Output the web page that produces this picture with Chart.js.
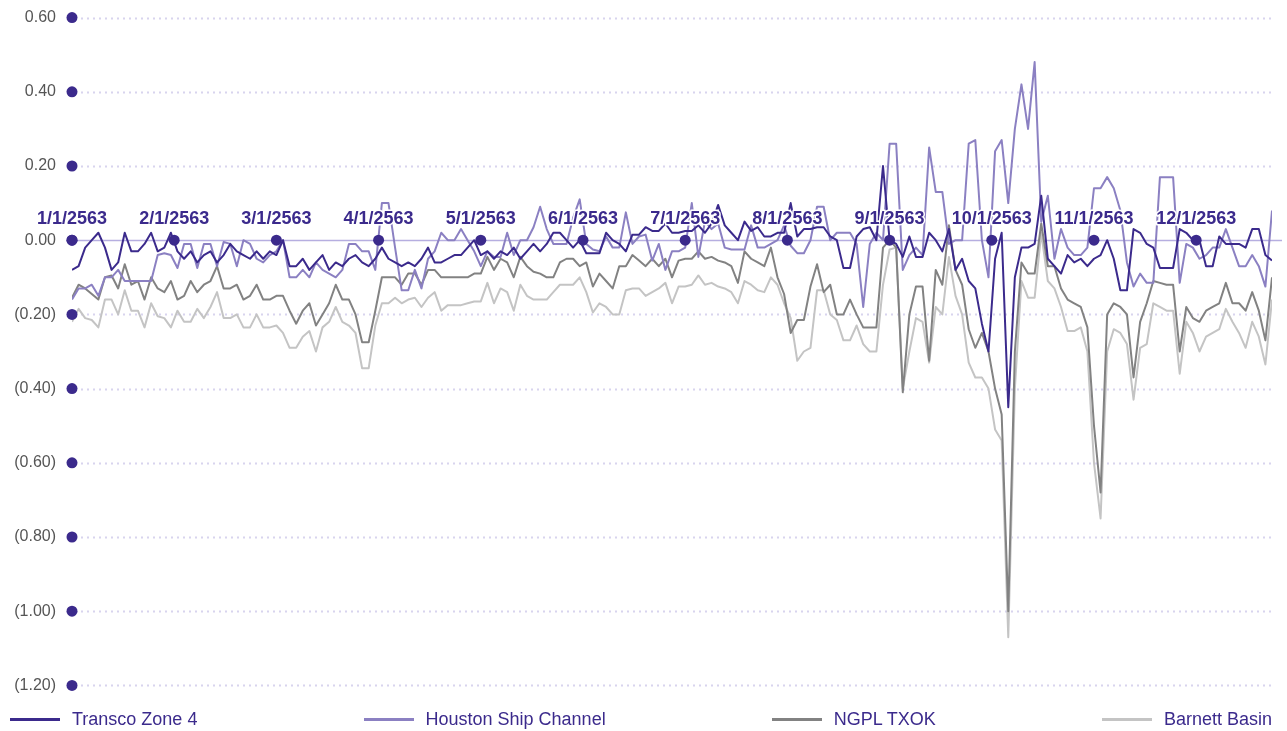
<!DOCTYPE html>
<html>
<head>
<meta charset="utf-8">
<script src="https://cdn.jsdelivr.net/npm/chart.js@4.4.1/dist/chart.umd.min.js"></script>
<style>
  body { margin: 0; background: #fff; font-family: "Liberation Sans", Arial, sans-serif; overflow: hidden; width: 1287px; height: 731px; position: relative; }
  #wrap { position: absolute; left: 0; top: -8px; width: 1287px; height: 719px; }
  #legend { position: absolute; left: 0; top: 708px; width: 1262px; display: flex; justify-content: space-between; align-items: center; padding: 0 15px 0 10px; height: 23px; }
  .item { display: flex; align-items: center; color: #3b2a8c; font-size: 18px; }
  .swatch { width: 50px; height: 3px; margin-right: 12px; }
</style>
</head>
<body>
<div id="wrap"><canvas id="chart" width="1287" height="719"></canvas></div>
<div id="legend"></div>
<script>
'use strict';

// month markers (evenly spaced, one every 31 days like the original)
const monthLabels = ['1/1/2563', '2/1/2563', '3/1/2563', '4/1/2563', '5/1/2563', '6/1/2563',
  '7/1/2563', '8/1/2563', '9/1/2563', '10/1/2563', '11/1/2563', '12/1/2563'];
const seriesNames = ['Transco Zone 4', 'Houston Ship Channel', 'NGPL TXOK', 'Barnett Basin'];
const seriesColors = ['#3b2a8c', '#8b80c2', '#828282', '#c4c4c4'];
const dayStep = 2; // one value every two days

// ----- values, Jan .. Dec -----
const transco = [
  -0.08, -0.07, -0.02, 0.00, 0.02, -0.02, -0.08, -0.06, 0.02, -0.03, -0.03, -0.01, 0.02, -0.03, -0.02, 0.02,
  -0.03, -0.05, -0.03, -0.06, -0.04, -0.03, -0.06, -0.04, -0.01, -0.03, -0.04, -0.05, -0.03, -0.05,
  -0.03, -0.04, 0.00, -0.07, -0.07, -0.05, -0.08, -0.06, -0.04, -0.08, -0.06, -0.07, -0.05, -0.04, -0.06, -0.07,
  -0.05, -0.02, -0.05, -0.06, -0.07, -0.06, -0.07, -0.05, -0.02, -0.06, -0.06, -0.05, -0.04, -0.04, -0.02,
  0.00, -0.04, -0.03, -0.05, -0.03, -0.04, -0.02, -0.05, -0.03, -0.01, -0.03, -0.01, 0.02, 0.02, 0.00,
  -0.02, 0.00, -0.035, -0.035, -0.035, 0.02, 0.00, -0.01, -0.03, 0.015, 0.015, 0.035, 0.025, 0.025, 0.045,
  0.02, 0.02, 0.025, 0.025, 0.04, 0.02, 0.045, 0.095, 0.04, 0.02, 0.00, 0.05, 0.025, 0.035, 0.01, 0.01,
  0.02, 0.02, 0.10, 0.01, 0.03, 0.03, 0.035, 0.035, 0.01, 0.00, -0.075, -0.075, 0.01, 0.03, 0.035,
  0.00, 0.20, 0.00, -0.01, -0.045, 0.01, -0.045, -0.045, 0.02, 0.00, -0.03, 0.03, -0.08, -0.05, -0.11,
  -0.13, -0.225, -0.30, -0.05, 0.02, -0.45, -0.10, -0.02, -0.02, -0.01, 0.12, -0.05, -0.07, -0.09, -0.04, -0.06,
  -0.05, -0.07, -0.05, -0.04, 0.00, -0.05, -0.135, -0.135, 0.03, 0.02, -0.01, -0.02, -0.075, -0.075, -0.075,
  0.03, 0.02, 0.00, 0.00, -0.07, -0.07, 0.01, -0.01, -0.01, -0.01, -0.02, 0.03, 0.03, -0.04, -0.055
];
const houston = [
  -0.16, -0.13, -0.13, -0.12, -0.15, -0.10, -0.10, -0.08, -0.11, -0.11, -0.11, -0.11, -0.11, -0.04, -0.035, -0.04,
  -0.075, -0.01, -0.01, -0.075, -0.01, -0.01, -0.07, -0.005, -0.01, -0.07, 0.00, -0.01, -0.05, -0.06,
  -0.04, -0.03, 0.00, -0.10, -0.10, -0.08, -0.10, -0.06, -0.08, -0.09, -0.10, -0.08, -0.01, -0.01, -0.03, -0.03,
  -0.08, 0.10, 0.10, -0.02, -0.135, -0.135, -0.08, -0.13, -0.05, -0.03, 0.02, 0.00, 0.00, 0.03, 0.00,
  -0.03, -0.07, -0.03, -0.045, -0.045, 0.02, -0.04, 0.00, 0.00, 0.035, 0.09, 0.03, -0.01, -0.01, -0.01,
  0.06, 0.11, -0.01, -0.025, -0.03, 0.01, -0.02, -0.02, 0.075, -0.01, 0.01, 0.015, -0.055, -0.01, -0.08,
  -0.03, -0.03, -0.02, 0.10, -0.045, 0.05, 0.03, 0.045, -0.02, -0.025, -0.025, -0.025, 0.04, -0.02, -0.02, -0.01,
  0.00, 0.04, -0.015, -0.035, -0.035, 0.00, 0.09, 0.09, 0.00, 0.02, 0.02, 0.02, -0.01, -0.18, -0.01,
  0.02, 0.00, 0.26, 0.26, -0.08, -0.04, -0.02, -0.04, 0.25, 0.13, 0.13, -0.01, 0.00, 0.00, 0.26,
  0.27, 0.00, -0.10, 0.24, 0.27, 0.10, 0.30, 0.42, 0.30, 0.48, 0.05, 0.12, -0.05, 0.03, -0.02, -0.04,
  -0.04, -0.02, 0.14, 0.14, 0.17, 0.14, 0.08, -0.06, -0.125, -0.09, -0.115, -0.115, 0.17, 0.17, 0.17,
  -0.115, -0.01, -0.02, -0.05, -0.04, -0.02, -0.02, 0.03, -0.02, -0.07, -0.07, -0.04, -0.07, -0.125, 0.08
];
const ngpl = [
  -0.155, -0.12, -0.13, -0.145, -0.16, -0.10, -0.095, -0.13, -0.065, -0.12, -0.11, -0.16, -0.10, -0.13, -0.14, -0.11,
  -0.16, -0.15, -0.11, -0.14, -0.12, -0.11, -0.07, -0.13, -0.13, -0.12, -0.16, -0.15, -0.12, -0.16,
  -0.16, -0.15, -0.15, -0.19, -0.225, -0.19, -0.17, -0.23, -0.20, -0.17, -0.12, -0.16, -0.16, -0.20, -0.275, -0.275,
  -0.19, -0.10, -0.10, -0.10, -0.12, -0.09, -0.09, -0.12, -0.08, -0.08, -0.10, -0.10, -0.10, -0.10, -0.10,
  -0.09, -0.09, -0.045, -0.08, -0.05, -0.06, -0.10, -0.045, -0.07, -0.085, -0.09, -0.10, -0.10, -0.06, -0.05,
  -0.05, -0.07, -0.06, -0.125, -0.09, -0.11, -0.13, -0.07, -0.07, -0.04, -0.055, -0.07, -0.05, -0.07, -0.05,
  -0.10, -0.055, -0.05, -0.05, -0.03, -0.05, -0.045, -0.055, -0.06, -0.07, -0.115, -0.03, -0.05, -0.06, -0.07, -0.02,
  -0.10, -0.145, -0.25, -0.215, -0.215, -0.125, -0.065, -0.14, -0.12, -0.20, -0.20, -0.16, -0.20, -0.235, -0.235,
  -0.235, -0.02, 0.00, -0.02, -0.41, -0.20, -0.125, -0.125, -0.325, -0.08, -0.12, 0.04, -0.08, -0.12, -0.24,
  -0.29, -0.25, -0.30, -0.40, -0.47, -1.00, -0.30, -0.06, -0.09, -0.09, 0.045, -0.07, -0.07, -0.13, -0.16, -0.17,
  -0.18, -0.235, -0.50, -0.68, -0.20, -0.17, -0.18, -0.20, -0.37, -0.22, -0.17, -0.11, -0.115, -0.12, -0.12,
  -0.30, -0.18, -0.21, -0.22, -0.19, -0.18, -0.17, -0.115, -0.17, -0.17, -0.19, -0.14, -0.19, -0.27, -0.10
];
const barnett = [
  -0.22, -0.185, -0.21, -0.215, -0.235, -0.16, -0.16, -0.20, -0.135, -0.19, -0.19, -0.235, -0.17, -0.205, -0.21, -0.235,
  -0.19, -0.22, -0.22, -0.185, -0.21, -0.18, -0.14, -0.21, -0.21, -0.20, -0.235, -0.235, -0.20, -0.235,
  -0.235, -0.23, -0.25, -0.29, -0.29, -0.26, -0.245, -0.30, -0.235, -0.22, -0.18, -0.22, -0.23, -0.25, -0.345, -0.345,
  -0.23, -0.17, -0.17, -0.155, -0.17, -0.16, -0.155, -0.18, -0.155, -0.14, -0.19, -0.175, -0.175, -0.175, -0.17,
  -0.165, -0.165, -0.115, -0.17, -0.13, -0.14, -0.19, -0.12, -0.15, -0.16, -0.16, -0.16, -0.14, -0.12, -0.12,
  -0.12, -0.10, -0.14, -0.195, -0.17, -0.18, -0.20, -0.20, -0.135, -0.13, -0.13, -0.15, -0.14, -0.13, -0.115,
  -0.17, -0.125, -0.125, -0.12, -0.095, -0.12, -0.115, -0.125, -0.13, -0.14, -0.17, -0.11, -0.12, -0.135, -0.14, -0.10,
  -0.12, -0.17, -0.21, -0.325, -0.30, -0.29, -0.135, -0.135, -0.20, -0.215, -0.27, -0.27, -0.23, -0.28, -0.30,
  -0.30, -0.12, -0.025, -0.02, -0.40, -0.30, -0.21, -0.22, -0.33, -0.18, -0.20, -0.045, -0.15, -0.20, -0.33,
  -0.37, -0.37, -0.40, -0.51, -0.54, -1.07, -0.40, -0.11, -0.155, -0.155, 0.02, -0.11, -0.13, -0.18, -0.245, -0.245,
  -0.235, -0.30, -0.60, -0.75, -0.30, -0.24, -0.25, -0.28, -0.43, -0.29, -0.28, -0.17, -0.18, -0.19, -0.19,
  -0.36, -0.22, -0.25, -0.30, -0.26, -0.25, -0.24, -0.185, -0.22, -0.25, -0.29, -0.22, -0.26, -0.335, -0.16
];
const allSeries = [transco, houston, ngpl, barnett];

const FONT = '"Liberation Sans", Arial, sans-serif';
const ink = '#3b2a8c';

// (0.20) style for negatives
const fmtTick = value => {
  const v = Math.round(value * 100) / 100;
  if (v < 0) return '(' + Math.abs(v).toFixed(2) + ')';
  return Math.abs(v).toFixed(2);
};

// ============ grid, dots and month markers ============
const decor = {
  id: 'decor',
  beforeDatasetsDraw(chart) {
    const { ctx, chartArea, scales: { y } } = chart;
    ctx.save();
    y.ticks.forEach(t => {
      const py = Math.round(y.getPixelForValue(t.value)) + 0.5;
      ctx.beginPath();
      if (Math.abs(t.value) < 1e-9) {
        ctx.setLineDash([]);
        ctx.strokeStyle = '#b6aee0';
        ctx.lineWidth = 1.5;
        ctx.moveTo(chartArea.left, py);
        ctx.lineTo(chart.width - 5, py);
      } else {
        ctx.setLineDash([2, 4]);
        ctx.strokeStyle = '#d8d4ee';
        ctx.lineWidth = 2;
        ctx.moveTo(chartArea.left + 9, py);
        ctx.lineTo(chartArea.right, py);
      }
      ctx.stroke();
    });
    ctx.restore();
  },
  afterDatasetsDraw(chart) {
    const { ctx, chartArea, scales: { x, y } } = chart;
    ctx.save();
    ctx.fillStyle = ink;
    // dots on the value axis
    y.ticks.forEach(t => {
      ctx.beginPath();
      ctx.arc(chartArea.left, y.getPixelForValue(t.value), 5.5, 0, Math.PI * 2);
      ctx.fill();
    });
    // month markers sitting on the zero line
    const zy = y.getPixelForValue(0);
    ctx.font = 'bold 18px ' + FONT;
    ctx.textAlign = 'center';
    ctx.textBaseline = 'alphabetic';
    ctx.lineJoin = 'round';
    monthLabels.forEach((lab, k) => {
      const px = x.getPixelForValue(31 * k);
      ctx.beginPath();
      ctx.arc(px, zy, 5.5, 0, Math.PI * 2);
      ctx.fillStyle = ink;
      ctx.fill();
      ctx.strokeStyle = '#fff';
      ctx.lineWidth = 3;
      ctx.strokeText(lab, px, zy - 16);
      ctx.fillText(lab, px, zy - 16);
    });
    ctx.restore();
  }
};

const datasets = allSeries.map((vals, i) => ({
  label: seriesNames[i],
  data: vals.map((v, j) => ({ x: j * dayStep, y: v })),
  borderColor: seriesColors[i],
  borderWidth: 2,
  borderJoinStyle: 'round',
  pointRadius: 0,
  tension: 0,
  fill: false
}));

new Chart(document.getElementById('chart'), {
  type: 'line',
  data: { datasets },
  options: {
    responsive: false,
    animation: false,
    devicePixelRatio: 1,
    layout: { padding: { top: 0, right: 15, bottom: 0, left: 0 } },
    plugins: { legend: { display: false }, tooltip: { enabled: false } },
    scales: {
      x: { type: 'linear', min: 0, max: 364, display: false },
      y: {
        min: -1.2,
        max: 0.6,
        grid: { display: false, drawTicks: false },
        border: { display: false },
        ticks: {
          stepSize: 0.2,
          padding: 16,
          color: '#555',
          font: { family: FONT, size: 16 },
          callback: fmtTick
        },
        afterFit: scale => { scale.width = 72; }
      }
    }
  },
  plugins: [decor]
});

// ----- legend, spread over the full width -----
const legend = document.getElementById('legend');
seriesNames.forEach((name, i) => {
  const item = document.createElement('div');
  item.className = 'item';
  const sw = document.createElement('span');
  sw.className = 'swatch';
  sw.style.background = seriesColors[i];
  item.appendChild(sw);
  item.appendChild(document.createTextNode(name));
  legend.appendChild(item);
});
</script>
</body>
</html>
